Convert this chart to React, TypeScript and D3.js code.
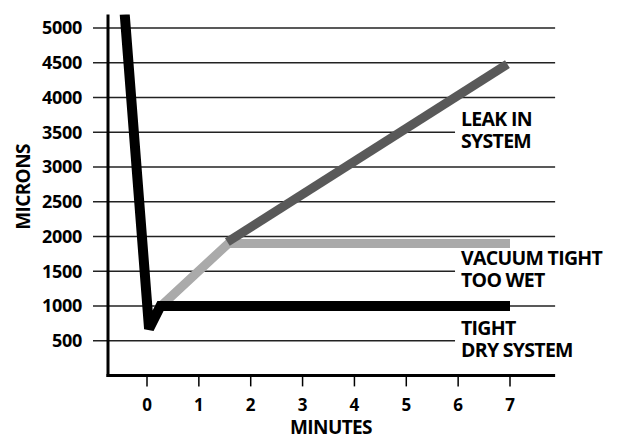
import { FC, useCallback, useEffect, useRef } from "react"
import * as d3 from "d3"

const yTicks = [500, 1000, 1500, 2000, 2500, 3000, 3500, 4000, 4500, 5000]
const xTicks = [0, 1, 2, 3, 4, 5, 6, 7]
// gridlines that stop short to leave room for the labels
const shortGrid = [500, 1500, 3500]

const tightDry = [
    { min: -0.43, mic: 5200 },
    { min: 0.04, mic: 670 },
    { min: 0.26, mic: 1000 },
    { min: 7, mic: 1000 },
]
const tooWet = [
    { min: 0.2, mic: 950 },
    { min: 1.57, mic: 1900 },
    { min: 7, mic: 1900 },
]
const leak = [
    { min: 1.55, mic: 1920 },
    { min: 6.95, mic: 4480 },
]
const labels = [
    { lines: ["LEAK IN", "SYSTEM"], mic: 3500 },
    { lines: ["VACUUM TIGHT", "TOO WET"], mic: 1500 },
    { lines: ["TIGHT", "DRY SYSTEM"], mic: 500 },
]

const FONT = "'Open Sans', 'DejaVu Sans', sans-serif"

const VacuumChart: FC = () => {
    const svgRef = useRef<SVGSVGElement>(null)

    const draw = useCallback(() => {
        const width = 618
        const height = 440
        const svg = d3.select(svgRef.current)
            .attr("width", width)
            .attr("height", height)
            .style("background", "#fff")
        svg.selectAll("*").remove()

        //scales
        const x = d3.scaleLinear().domain([0, 7]).range([147, 510])
        const y = d3.scaleLinear().domain([0, 5000]).range([375.4, 28])
        const left = x(-0.752)
        const right = x(7.87)
        const top = y(5195)
        const gridEnd = x(5.94)

        svg.append("clipPath").attr("id", "plot-clip")
            .append("rect")
            .attr("x", left).attr("y", top)
            .attr("width", right - left).attr("height", y(0) - top)

        //gridlines with y tick labels
        const grid = svg.append("g")
        grid.selectAll("line")
            .data(yTicks)
            .join("line")
            .attr("x1", left - 15)
            .attr("x2", d => shortGrid.includes(d) ? gridEnd : right)
            .attr("y1", d => y(d))
            .attr("y2", d => y(d))
            .attr("stroke", "#222")
            .attr("stroke-width", 1.5)
        grid.selectAll("text")
            .data(yTicks)
            .join("text")
            .attr("x", 82)
            .attr("y", d => y(d))
            .attr("dy", "0.36em")
            .attr("text-anchor", "end")
            .attr("font-family", FONT)
            .attr("font-weight", 700)
            .attr("font-size", 18)
            .attr("letter-spacing", -0.3)
            .text(d => d)

        //axes
        svg.append("line")
            .attr("x1", left).attr("x2", left)
            .attr("y1", top).attr("y2", y(0) + 1.5)
            .attr("stroke", "#000").attr("stroke-width", 3)
        svg.append("line")
            .attr("x1", left - 1.5).attr("x2", right)
            .attr("y1", y(0)).attr("y2", y(0))
            .attr("stroke", "#000").attr("stroke-width", 3)
        const xt = svg.append("g")
        xt.selectAll("line")
            .data(xTicks)
            .join("line")
            .attr("x1", d => x(d)).attr("x2", d => x(d))
            .attr("y1", y(0)).attr("y2", y(0) + 11)
            .attr("stroke", "#000").attr("stroke-width", 1.5)
        xt.selectAll("text")
            .data(xTicks)
            .join("text")
            .attr("x", d => x(d))
            .attr("y", 411)
            .attr("text-anchor", "middle")
            .attr("font-family", FONT)
            .attr("font-weight", 700)
            .attr("font-size", 17)
            .text(d => d)

        //axis titles
        svg.append("text")
            .attr("x", 331).attr("y", 434)
            .attr("text-anchor", "middle")
            .attr("font-family", FONT)
            .attr("font-weight", 700)
            .attr("font-size", 19)
            .attr("letter-spacing", -0.6)
            .text("MINUTES")
        svg.append("text")
            .attr("transform", "translate(30,187) rotate(-90)")
            .attr("text-anchor", "middle")
            .attr("font-family", FONT)
            .attr("font-weight", 700)
            .attr("font-size", 19)
            .attr("letter-spacing", -0.6)
            .text("MICRONS")

        //series
        const line = d3.line<{ min: number, mic: number }>()
            .x(d => x(d.min))
            .y(d => y(d.mic))
        const series = [
            { data: tooWet, color: "#aaaaaa", w: 9 },
            { data: leak, color: "#595959", w: 9 },
            { data: tightDry, color: "#000000", w: 10 },
        ]
        svg.append("g")
            .attr("clip-path", "url(#plot-clip)")
            .selectAll("path")
            .data(series)
            .join("path")
            .attr("d", d => line(d.data))
            .attr("fill", "none")
            .attr("stroke", d => d.color)
            .attr("stroke-width", d => d.w)
            .attr("stroke-linejoin", "miter")
            .attr("stroke-miterlimit", 2)

        //series labels
        const lab = svg.append("g")
        labels.forEach(l => {
            const t = lab.append("text")
                .attr("x", 461)
                .attr("y", y(l.mic) - 6)
                .attr("font-family", FONT)
                .attr("font-weight", 700)
                .attr("font-size", 19.5)
                .attr("letter-spacing", -0.7)
            l.lines.forEach((s, i) => {
                t.append("tspan")
                    .attr("x", 461)
                    .attr("dy", i === 0 ? 0 : 22)
                    .text(s)
            })
        })
    }, [])

    useEffect(() => {
        draw()
    }, [draw])

    return (
        <svg ref={svgRef} style={{ position: "absolute", left: 0, top: 0, display: "block" }}></svg>
    )
}

export default function App() {
    return <VacuumChart />
}
